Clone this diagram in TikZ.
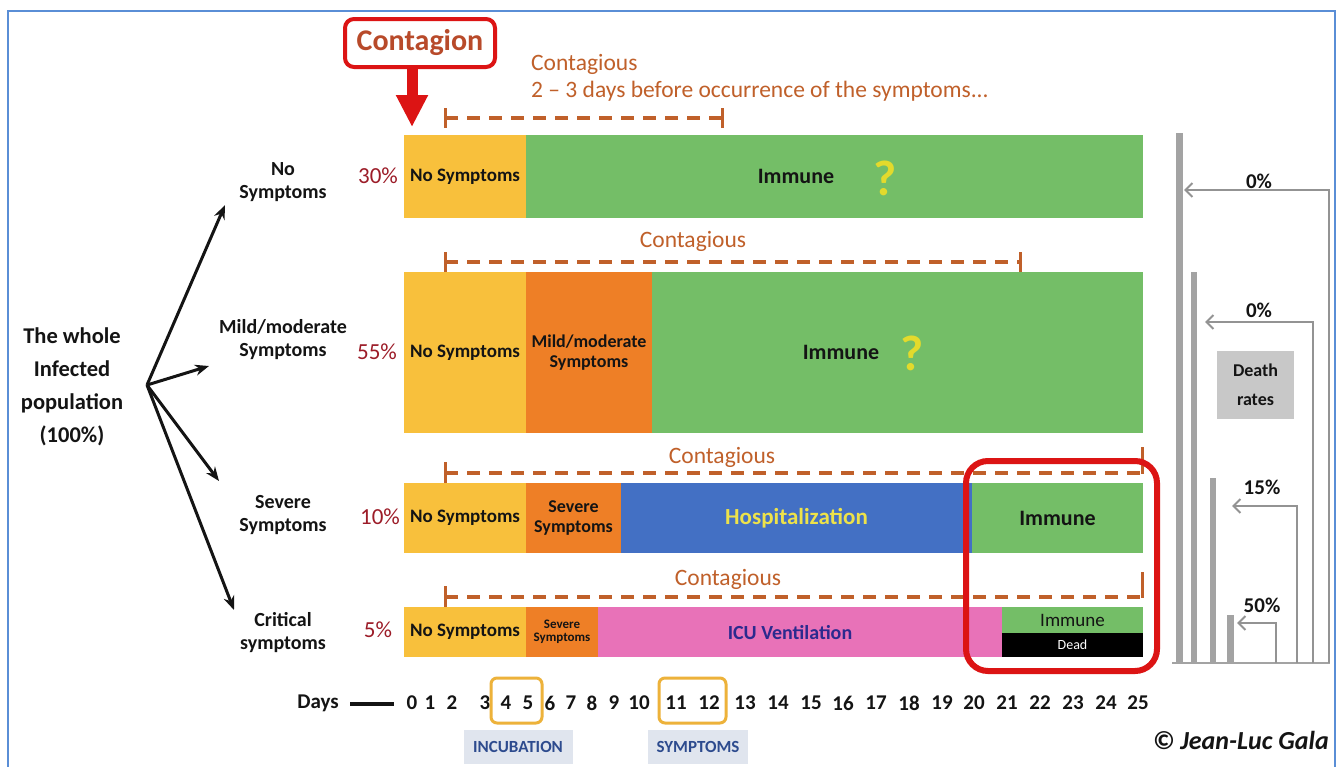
\documentclass[tikz,border=0pt]{standalone}
\usepackage{fontspec}
\setmainfont{Carlito}
\usetikzlibrary{arrows.meta,calc}
\definecolor{ybar}{HTML}{F8C03C}
\definecolor{obar}{HTML}{EE7F26}
\definecolor{gbar}{HTML}{74BE67}
\definecolor{bbar}{HTML}{4370C4}
\definecolor{pbar}{HTML}{E872B8}
\definecolor{dashc}{HTML}{C0602A}
\definecolor{pctc}{HTML}{9C1C28}
\definecolor{redc}{HTML}{DC1414}
\definecolor{contc}{HTML}{B84A2A}
\definecolor{greyc}{HTML}{A3A3A3}
\definecolor{framec}{HTML}{5A8ED6}
\definecolor{qc}{HTML}{E3DA2C}
\definecolor{hospc}{HTML}{EDE24A}
\definecolor{icuc}{HTML}{2B2A8E}
\definecolor{dayc}{HTML}{EDB23A}
\definecolor{labfill}{HTML}{E0E5EE}
\definecolor{labtext}{HTML}{2D4B8E}
\definecolor{inkc}{HTML}{141414}
\definecolor{drfill}{HTML}{C8C8C8}
\newcommand\fsz[2]{\fontsize{#1pt}{#2pt}\selectfont}
\begin{document}
\begin{tikzpicture}[x=1pt,y=-1pt,
 seg/.style={anchor=north west, inner sep=0pt, outer sep=0pt, draw=none, align=center, text=inkc, font=\bfseries\fsz{19}{20}},
 lbl/.style={align=center, text=inkc, font=\bfseries\fsz{20}{23}, inner sep=0pt},
 pct/.style={text=pctc, font=\fsz{23}{26}, inner sep=0pt},
 cont/.style={text=dashc, font=\fsz{23.5}{27}, inner sep=0pt},
 dashln/.style={dashc, line width=3.5pt, dash pattern=on 13pt off 9pt},
 tickln/.style={dashc, line width=3pt},
 larrow/.style={inkc, line width=3pt, -{Stealth[length=14pt,width=11pt]}},
 garrow/.style={greyc!90!black, line width=2pt, -{Straight Barb[length=7pt,width=14pt]}},
 pctg/.style={text=inkc, font=\bfseries\fsz{21}{24}, inner sep=0pt},
 daynum/.style={text=inkc, font=\bfseries\fsz{21}{24}, inner sep=0pt},
 daybox/.style={draw=dayc, line width=3pt, rounded corners=6pt},
 phase/.style={fill=labfill, text=labtext, font=\bfseries\fsz{17}{18}, inner sep=0pt},
 bigq/.style={text=qc, font=\bfseries\fsz{50}{50}, inner sep=0pt},
 imm/.style={text=inkc, font=\bfseries\fsz{22}{24}, inner sep=0pt},
]
\useasboundingbox (0,0) rectangle (1343,766);
\fill[white] (0,0) rectangle (1343,766);
\draw[framec, line width=2pt] (8,11) rectangle (1335,790);

% ---------- Contagion ----------
\node[draw=redc, line width=4pt, rounded corners=9pt, fill=white, minimum width=150pt, minimum height=48pt, inner sep=0pt, text=contc, font=\bfseries\fsz{30}{32}] (cg) at (420,43) {Contagion};
\coordinate (ctip) at (412,127);
\draw[redc, line width=11pt, -{Triangle[length=32pt,width=30pt]}] (cg.south -| ctip) -- (ctip);
\node[cont, anchor=west] (c0a) at (531,64) {Contagious};
\node[cont, anchor=west] (c0b) at (531,91) {2 -- 3 days before occurrence of the symptoms...};

% ---------- left ----------
\node[lbl, font=\bfseries\fsz{22.5}{33}] (whole) at (72,387) {The whole\\Infected\\population\\(100\%)};
\coordinate (hub) at (147,385);
\coordinate (t1) at (225,205);
\coordinate (t2) at (209,366);
\coordinate (t3) at (219,481);
\coordinate (t4) at (234,610);
\draw[larrow] (hub) -- (t1);
\draw[larrow] (hub) -- (t2);
\draw[larrow] (hub) -- (t3);
\draw[larrow] (hub) -- (t4);
\node[lbl] (l1) at (283,182) {No\\Symptoms};
\node[lbl] (l2) at (283,340) {Mild/moderate\\Symptoms};
\node[lbl] (l3) at (283,515) {Severe\\Symptoms};
\node[lbl] (l4) at (283,633) {Critical\\symptoms};
\node[pct] (p1) at (378,176) {30\%};
\node[pct] (p2) at (377,352) {55\%};
\node[pct] (p3) at (380,517) {10\%};
\node[pct] (p4) at (378,630) {5\%};

% ---------- dashed contagious lines ----------
\coordinate (d1s) at (445,118); \coordinate (d1e) at (722,118);
\draw[dashln] (d1s) -- (d1e);
\draw[tickln] ($(d1s)+(0,-10)$) -- ($(d1s)+(0,10)$);
\draw[tickln] ($(d1e)+(0,-10)$) -- ($(d1e)+(0,10)$);

\node[cont] (c2) at (693,241) {Contagious};
\coordinate (d2s) at (445,262); \coordinate (d2e) at (1020,262);
\draw[dashln] (d2s) -- (d2e);
\draw[tickln] ($(d2s)+(0,-10)$) -- ($(d2s)+(0,10)$);
\draw[tickln] ($(d2e)+(0,-10)$) -- ($(d2e)+(0,10)$);

\node[cont] (c3) at (722,457) {Contagious};
\coordinate (d3s) at (445,473); \coordinate (d3e) at (1142,473);
\draw[dashln] (d3s) -- (d3e);
\draw[tickln] ($(d3s)+(0,-11)$) -- ($(d3s)+(0,11)$);
\draw[tickln] ($(d3e)+(0,-26)$) -- ($(d3e)+(0,1)$);

\node[cont] (c4) at (728,579) {Contagious};
\coordinate (d4s) at (445,597); \coordinate (d4e) at (1142,597);
\draw[dashln] (d4s) -- (d4e);
\draw[tickln] ($(d4s)+(0,-11)$) -- ($(d4s)+(0,11)$);
\draw[tickln] ($(d4e)+(0,-25)$) -- ($(d4e)+(0,1)$);

% ---------- Row 1 ----------
\node[seg, fill=ybar, minimum width=122pt, minimum height=83pt] (r1a) at (404,135) {No Symptoms};
\node[seg, fill=gbar, minimum width=617pt, minimum height=83pt] (r1b) at (526,135) {};
\node[imm] (i1) at (796,176) {Immune};
\node[bigq] (q1) at (885,178) {?};

% ---------- Row 2 ----------
\node[seg, fill=ybar, minimum width=122pt, minimum height=161pt] (r2a) at (404,272) {No Symptoms};
\node[seg, fill=obar, minimum width=126pt, minimum height=161pt, font=\bfseries\fsz{18}{20}] (r2b) at (526,272) {Mild/moderate\\Symptoms};
\node[seg, fill=gbar, minimum width=491pt, minimum height=161pt] (r2c) at (652,272) {};
\node[imm] (i2) at (841,352) {Immune};
\node[bigq] (q2) at (912,353) {?};

% ---------- Row 3 ----------
\node[seg, fill=ybar, minimum width=122pt, minimum height=70pt] (r3a) at (404,483) {No Symptoms};
\node[seg, fill=obar, minimum width=95pt, minimum height=70pt, font=\bfseries\fsz{18}{20}] (r3b) at (526,483) {Severe\\Symptoms};
\node[seg, fill=bbar, minimum width=351pt, minimum height=70pt, text=hospc, font=\bfseries\fsz{23}{25}] (r3c) at (621,483) {Hospitalization};
\node[seg, fill=gbar, minimum width=171pt, minimum height=70pt, font=\bfseries\fsz{22}{24}] (r3d) at (972,483) {Immune};

% ---------- Row 4 ----------
\node[seg, fill=ybar, minimum width=122pt, minimum height=50pt] (r4a) at (404,607) {No Symptoms};
\node[seg, fill=obar, minimum width=72pt, minimum height=50pt, font=\bfseries\fsz{13}{13}] (r4b) at (526,607) {Severe\\Symptoms};
\node[seg, fill=pbar, minimum width=404pt, minimum height=50pt] (r4c) at (598,607) {};
\node[text=icuc, font=\bfseries\fsz{20}{22}, inner sep=0pt] (icu) at (790,633) {ICU Ventilation};
\node[seg, fill=gbar, minimum width=141pt, minimum height=26pt, font=\fsz{19}{20}] (r4d) at (1002,607) {Immune};
\node[seg, fill=black, minimum width=141pt, minimum height=24pt, text=white, font=\fsz{14}{15}] (r4e) at (1002,633) {Dead};

% red highlight
\draw[redc, line width=6pt, rounded corners=22pt] (966,461) rectangle (1157,671);

% ---------- Days ----------
\node[daynum] (days) at (318,703) {Days};
\coordinate (dl1) at (350,704); \coordinate (dl2) at (394,704);
\draw[inkc, line width=4pt] (dl1) -- (dl2);
\foreach \n/\x in {0/412,1/430,2/452,3/485,4/506,5/528,6/550,7/571,8/592,9/614,10/639,11/676,12/709,13/745,14/778,15/811,16/843,17/876,18/909,19/942,20/974,21/1007,22/1040,23/1073,24/1106,25/1138}
  \node[daynum] (n\n) at (\x,703) {\n};
\draw[daybox] (491,678) rectangle (542,723);
\draw[daybox] (659,678) rectangle (726,723);
\node[phase, minimum width=109pt, minimum height=34pt] (incub) at (518,747) {INCUBATION};
\node[phase, minimum width=100pt, minimum height=34pt] (sympt) at (698,747) {SYMPTOMS};
\node[anchor=east, text=inkc, font=\bfseries\itshape\fsz{26}{28}, inner sep=0pt] (copy) at (1329,740) {\textcopyright{} Jean-Luc Gala};

% ---------- Death rates panel ----------
\fill[greyc] (1175.5,133) rectangle (1182.5,663);
\fill[greyc] (1191,272) rectangle (1197,663);
\fill[greyc] (1210,478) rectangle (1216,663);
\fill[greyc] (1226.5,615) rectangle (1233.5,663);
\draw[greyc, line width=2pt] (1172,663) -- (1330,663);
\coordinate (a1b) at (1329,663); \coordinate (a1t) at (1184,190);
\coordinate (a2b) at (1313,663); \coordinate (a2t) at (1205,322);
\coordinate (a3b) at (1297,663); \coordinate (a3t) at (1232,506);
\coordinate (a4b) at (1276,663); \coordinate (a4t) at (1237,623);
\draw[garrow] (a1b) |- (a1t);
\draw[garrow] (a2b) |- (a2t);
\draw[garrow] (a3b) |- (a3t);
\draw[garrow] (a4b) |- (a4t);
\node[pctg] (g1) at (1259,181) {0\%};
\node[pctg] (g2) at (1259,310) {0\%};
\node[pctg] (g3) at (1262,487) {15\%};
\node[pctg] (g4) at (1262,605) {50\%};
\node[fill=drfill, minimum width=77pt, minimum height=68pt, inner sep=0pt, align=center, text=inkc, font=\bfseries\fsz{18}{29}] (dr) at (1255.5,385) {Death\\rates};
\end{tikzpicture}
\end{document}
